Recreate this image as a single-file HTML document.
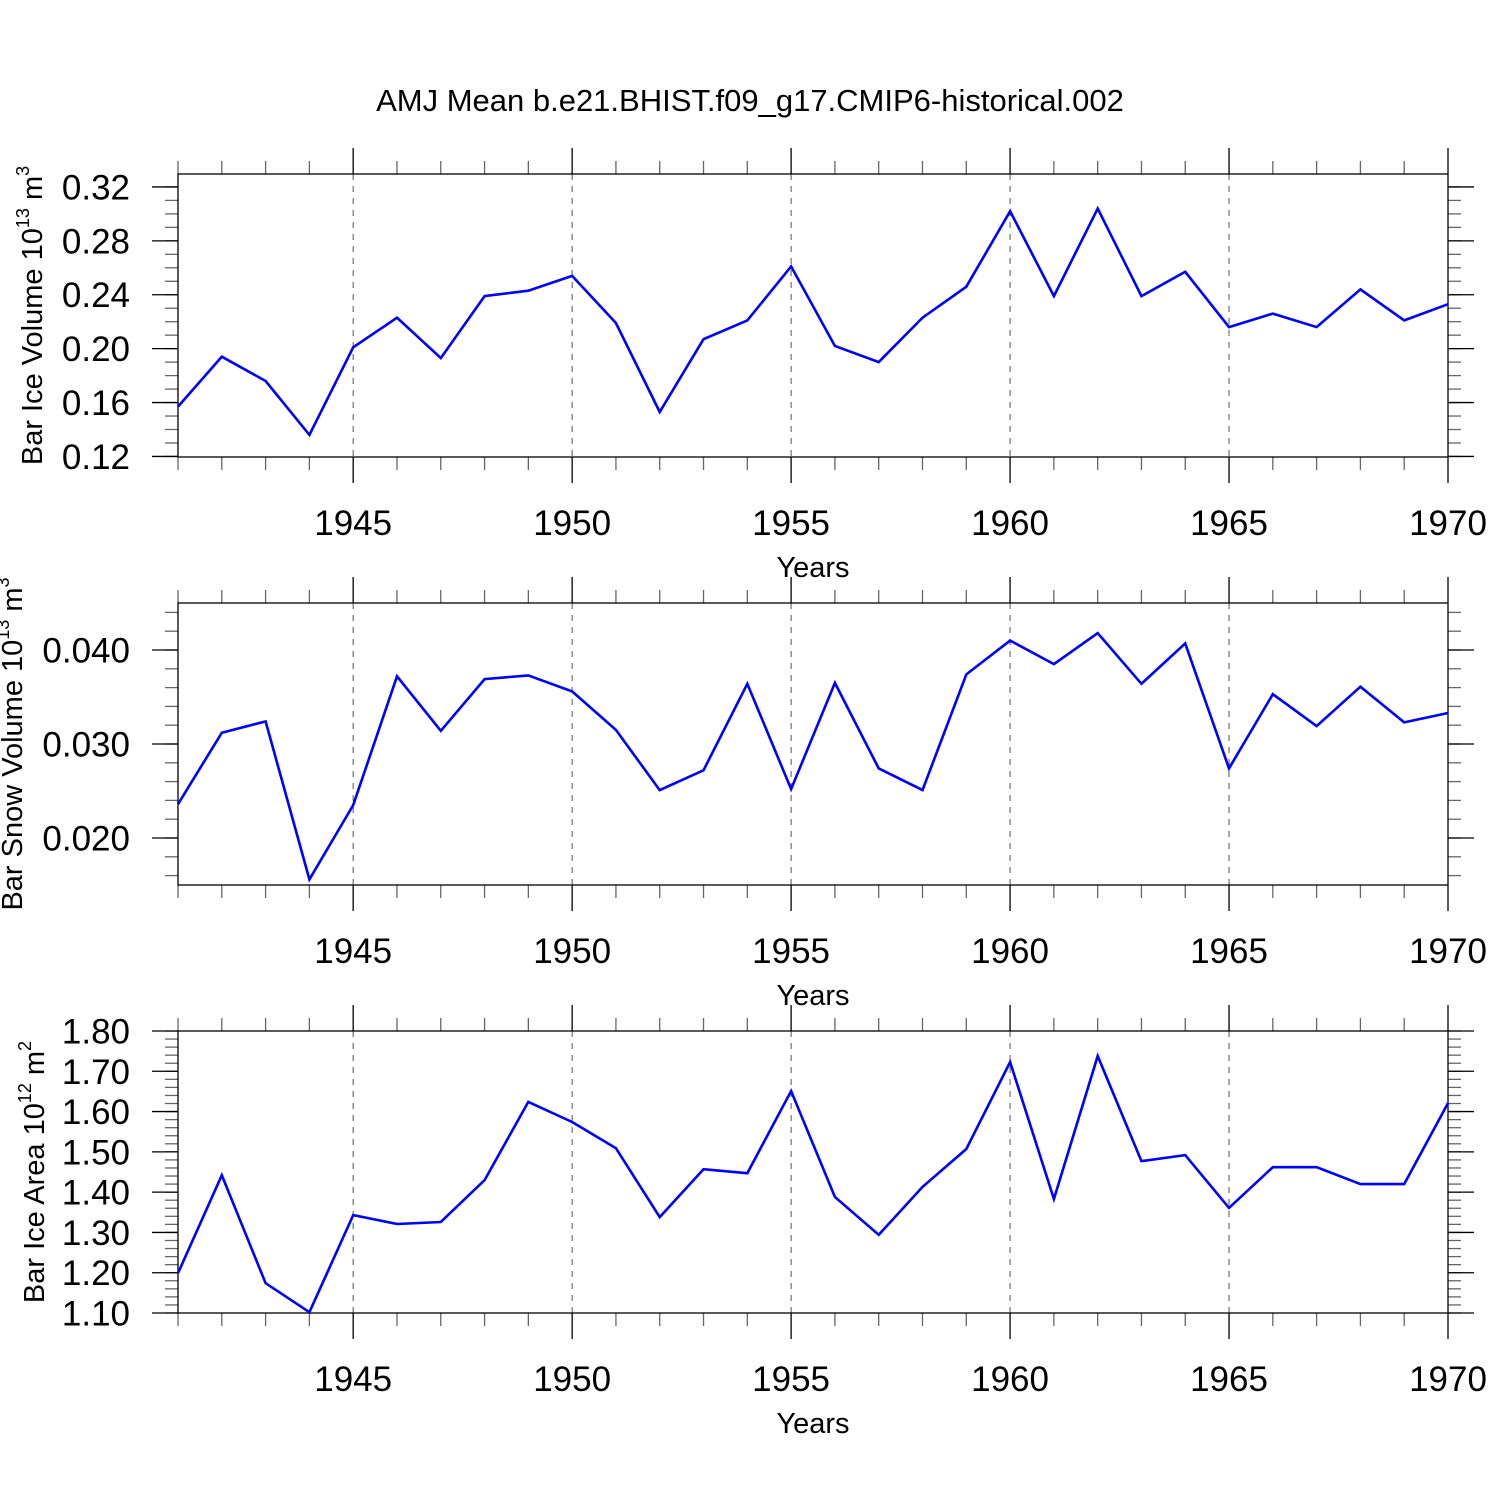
<!DOCTYPE html>
<html><head><meta charset="utf-8"><style>
html,body{margin:0;padding:0;background:#fff;}
svg{display:block;font-family:"Liberation Sans",sans-serif;}
</style></head><body>
<svg id="c" width="1500" height="1500" viewBox="0 0 1500 1500" xmlns="http://www.w3.org/2000/svg">
<text x="750" y="111" font-size="31" text-anchor="middle">AMJ Mean b.e21.BHIST.f09_g17.CMIP6-historical.002</text>
</svg>
<script>
const years = [1941,1942,1943,1944,1945,1946,1947,1948,1949,1950,1951,1952,1953,1954,1955,1956,1957,1958,1959,1960,1961,1962,1963,1964,1965,1966,1967,1968,1969,1970];
const iceVolume = [0.157,0.194,0.176,0.136,0.201,0.223,0.193,0.239,0.243,0.254,0.219,0.153,0.207,0.221,0.261,0.202,0.190,0.223,0.246,0.302,0.239,0.304,0.239,0.257,0.216,0.226,0.216,0.244,0.221,0.233];
const snowVolume = [0.0236,0.0312,0.0324,0.0156,0.0235,0.0372,0.0314,0.0369,0.0373,0.0356,0.0315,0.0251,0.0272,0.0364,0.0252,0.0365,0.0274,0.0251,0.0374,0.0410,0.0385,0.0418,0.0364,0.0407,0.0274,0.0353,0.0319,0.0361,0.0323,0.0333];
const iceArea = [1.199,1.442,1.174,1.102,1.343,1.321,1.326,1.430,1.624,1.574,1.509,1.338,1.457,1.447,1.651,1.388,1.294,1.413,1.507,1.723,1.383,1.738,1.477,1.492,1.361,1.462,1.462,1.420,1.420,1.621];
const xTickLabels = [1945,1950,1955,1960,1965,1970];
const iceVolTicks = [0.12,0.16,0.20,0.24,0.28,0.32];
const snowTicks = [0.020,0.030,0.040];
const areaTicks = [1.10,1.20,1.30,1.40,1.50,1.60,1.70,1.80];

const NS="http://www.w3.org/2000/svg";
const svg=document.getElementById('c');
function mk(tag,attrs,parent){const e=document.createElementNS(NS,tag);for(const k in attrs)e.setAttribute(k,attrs[k]);(parent||svg).appendChild(e);return e;}
const X0=178,X1=1448;
const xs=y=>X0+(y-1941)/(1970-1941)*(X1-X0);

const panels=[
 {name:'ice-volume',top:174,bot:457,ymin:0.12-0.0004,ymax:0.3296,data:iceVolume,ticks:iceVolTicks,dec:2,minor:0.01,label:'Bar Ice Volume 10',sup:'13',unit:' m',usup:'3',labx:42},
 {name:'snow-volume',top:603,bot:885,ymin:0.015,ymax:0.045,data:snowVolume,ticks:snowTicks,dec:3,minor:0.002,label:'Bar Snow Volume 10',sup:'13',unit:' m',usup:'3',labx:22},
 {name:'ice-area',top:1031,bot:1313,ymin:1.10,ymax:1.80,data:iceArea,ticks:areaTicks,dec:2,minor:0.02,label:'Bar Ice Area 10',sup:'12',unit:' m',usup:'2',labx:44},
];
panels.forEach(p=>{
 const g=mk('g',{});
 
 
 const ys=v=>p.bot-(v-p.ymin)/(p.ymax-p.ymin)*(p.bot-p.top);
 xTickLabels.slice(0,5).forEach(y=>{
  const l=mk('line',{x1:xs(y),x2:xs(y),y1:p.top,y2:p.bot,stroke:'#555','stroke-width':1,'stroke-dasharray':'6,6'},g);
  
  
 });
 years.forEach(y=>{
  const maj=y%5===0, x=xs(y);
  mk('line',{x1:x,x2:x,y1:p.top,y2:p.top-(maj?26:13),stroke:maj?'#000':'#666','stroke-width':1.3},g);
  mk('line',{x1:x,x2:x,y1:p.bot,y2:p.bot+(maj?26:13),stroke:maj?'#000':'#666','stroke-width':1.3},g);
 });
 xTickLabels.forEach(y=>{
  const t=mk('text',{x:xs(y),y:p.bot+78,'font-size':35,'text-anchor':'middle'},g);
  t.textContent=y;
  
  
 });
 const xt=mk('text',{x:813,y:p.bot+120,'font-size':29,'text-anchor':'middle'},g);
 xt.textContent='Years';
 
 
 const n=Math.round((p.ymax-p.ymin)/p.minor)+2;
 const start=Math.ceil(p.ymin/p.minor-1e-6)*p.minor;
 for(let i=0;i<n;i++){const v=start+i*p.minor;if(v>p.ymax+1e-9)break;const y=ys(v);
  mk('line',{x1:X0,x2:X0-13,y1:y,y2:y,stroke:'#666','stroke-width':1.3},g);
  mk('line',{x1:X1,x2:X1+13,y1:y,y2:y,stroke:'#666','stroke-width':1.3},g);}
 p.ticks.forEach(v=>{const y=ys(v);
  mk('line',{x1:X0,x2:X0-26,y1:y,y2:y,stroke:'#000','stroke-width':1.3},g);
  mk('line',{x1:X1,x2:X1+26,y1:y,y2:y,stroke:'#000','stroke-width':1.3},g);
  const t=mk('text',{x:130,y:y+12.5,'font-size':35,'text-anchor':'end'},g);
  t.textContent=v.toFixed(p.dec);
  
  
 });
 mk('rect',{x:X0,y:p.top,width:X1-X0,height:p.bot-p.top,fill:'none',stroke:'#000','stroke-width':1.3},g);
 const cy=(p.top+p.bot)/2;
 const yl=mk('text',{x:0,y:0,'font-size':29,'text-anchor':'middle',transform:`translate(${p.labx},${cy}) rotate(-90)`},g);
 
 
 yl.appendChild(document.createTextNode(p.label));
 const s1=mk('tspan',{'font-size':18,dy:-13},yl);s1.textContent=p.sup;
 const s2=mk('tspan',{dy:13},yl);s2.textContent=p.unit;
 const s3=mk('tspan',{'font-size':18,dy:-13},yl);s3.textContent=p.usup;
 const pts=p.data.map((v,i)=>xs(years[i]).toFixed(1)+','+ys(v).toFixed(1)).join(' ');
 const pl=mk('polyline',{points:pts,fill:'none',stroke:'#0000ff','stroke-width':2.6,'stroke-linejoin':'miter'},g);
 
 
});
</script>
</body></html>
